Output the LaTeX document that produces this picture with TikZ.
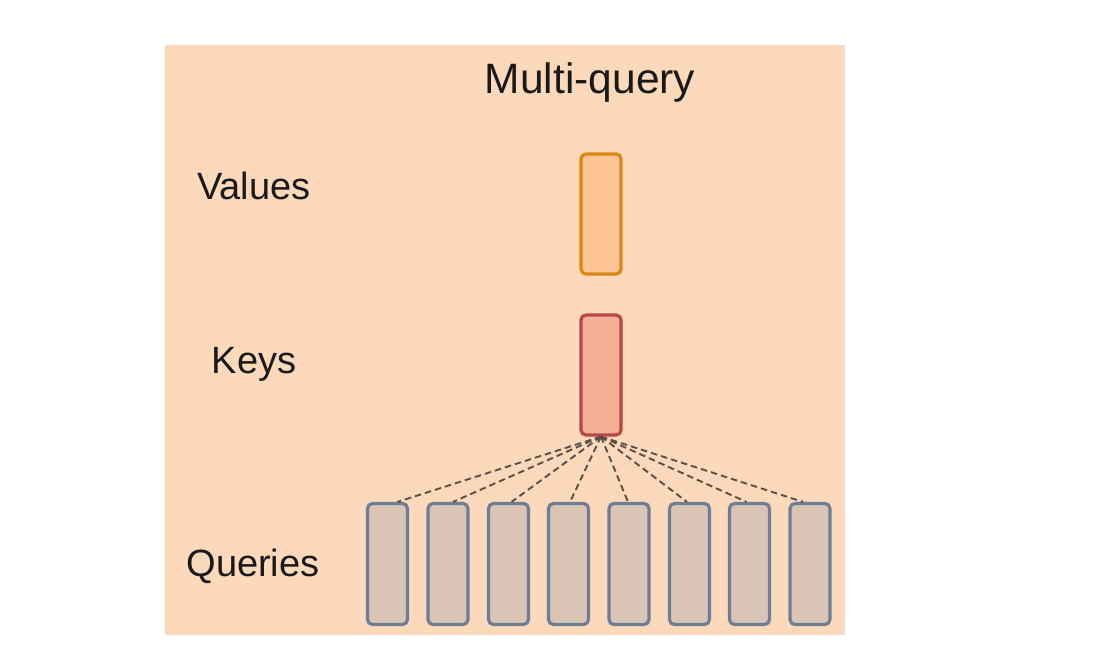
\documentclass[tikz,border=0pt]{standalone}
\usepackage{fontspec}
\setmainfont{Liberation Sans}
\definecolor{panel}{HTML}{FDD9BB}
\definecolor{valfill}{HTML}{FFC594}
\definecolor{valdraw}{HTML}{D8890F}
\definecolor{keyfill}{HTML}{F5B09A}
\definecolor{keydraw}{HTML}{B84842}
\definecolor{qfill}{HTML}{D9C4B5}
\definecolor{qdraw}{HTML}{6F7D95}
\definecolor{dashc}{HTML}{5A5048}
\begin{document}
\begin{tikzpicture}[x=1pt,y=-1pt,
  bar/.style={rectangle,rounded corners=5pt,line width=3.2pt,minimum width=40pt,minimum height=120pt,inner sep=0pt},
  vbar/.style={bar,fill=valfill,draw=valdraw},
  kbar/.style={bar,fill=keyfill,draw=keydraw},
  qbar/.style={bar,fill=qfill,draw=qdraw},
  lbl/.style={font=\fontsize{38}{44}\selectfont,text=black!90,anchor=base},
  link/.style={draw=dashc,line width=1.9pt,dash pattern=on 6.5pt off 4pt}]
\useasboundingbox[fill=white] (0,0) rectangle (1112,645);
\fill[panel] (165,45) rectangle (845,635);
\node[font=\fontsize{42.5}{48}\selectfont,text=black!90,anchor=base] (title) at (590,93) {Multi-query};
\node[lbl] (lv) at (254,199) {Values};
\node[lbl] (lk) at (254,373) {Keys};
\node[lbl] (lq) at (253,576) {Queries};
\node[vbar] (v) at (601,214) {};
\node[kbar] (k) at (601,375) {};
\foreach \i/\x in {1/387.5,2/448,3/508.5,4/568.5,5/629,6/689.5,7/749.5,8/810}{
  \node[qbar,minimum height=121pt] (q\i) at (\x,564) {};
}
\foreach \i/\d in {1/10,2/5,3/3,4/1.5,5/-1,6/-2.5,7/-3,8/-7}{
  \draw[link] (k.south) -- ([xshift=\d pt]q\i.north);
}
\end{tikzpicture}
\end{document}
